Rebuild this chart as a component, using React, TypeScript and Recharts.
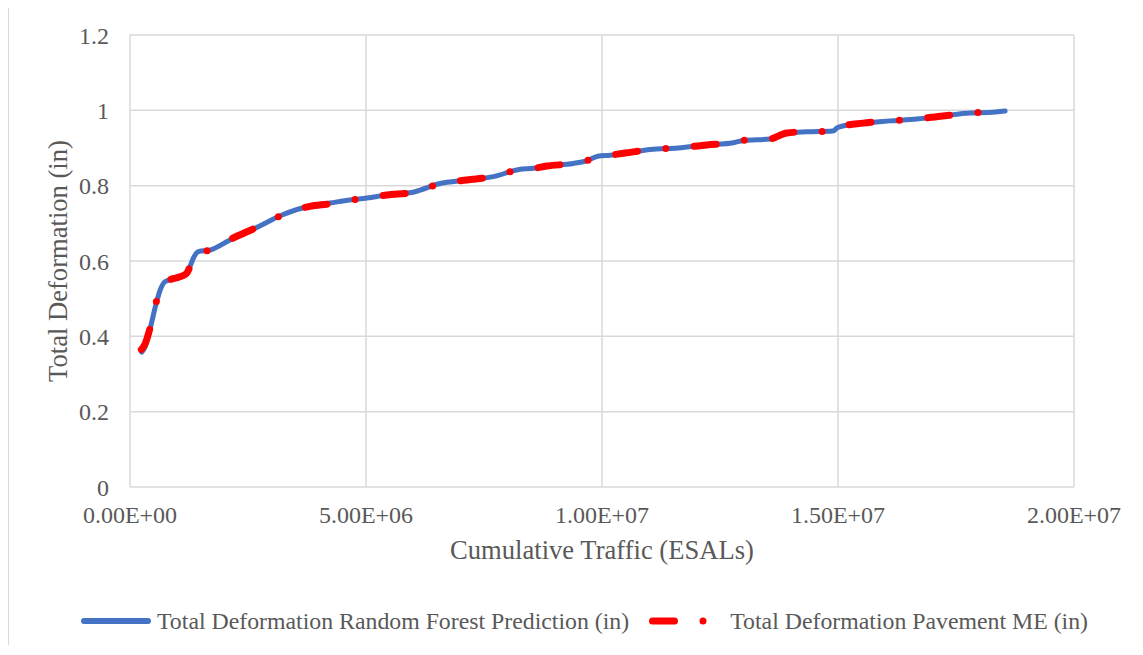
import { LineChart, Line, XAxis, YAxis, CartesianGrid, Legend, Label } from 'recharts';

// cumulative traffic (ESALs) and total deformation (in)
const rfTraffic = [
  250000, 320000, 420000, 565000, 640000, 740000, 880000, 1060000, 1200000, 1270000,
  1340000, 1450000, 1690000, 2120000, 2750000, 3220000, 3810000, 4240000, 4660000, 4890000,
  5440000, 6040000, 6550000, 7130000, 7700000, 8240000, 8550000, 8830000, 9390000, 9670000,
  9910000, 10170000, 10520000, 11020000, 11610000, 12220000, 12780000, 12990000, 13560000, 13920000,
  14340000, 14890000, 15000000, 15530000, 16100000, 16670000, 17220000, 17800000, 18200000, 18540000,
];
const rfDeformation = [
  0.358, 0.372, 0.417, 0.492, 0.523, 0.545, 0.551, 0.558, 0.567, 0.585,
  0.607, 0.625, 0.629, 0.656, 0.693, 0.722, 0.746, 0.754, 0.762, 0.765,
  0.775, 0.784, 0.805, 0.815, 0.824, 0.843, 0.846, 0.852, 0.859, 0.866,
  0.878, 0.881, 0.886, 0.896, 0.9, 0.908, 0.914, 0.92, 0.924, 0.94,
  0.943, 0.945, 0.955, 0.966, 0.972, 0.977, 0.985, 0.993, 0.994, 0.998,
];

const meTraffic = [
  240000, 320000, 420000, 565000, 640000, 740000, 880000, 1060000, 1200000, 1270000,
  1340000, 1450000, 1690000, 2120000, 2750000, 3220000, 3810000, 4240000, 4660000, 4890000,
  5440000, 6040000, 6550000, 7130000, 7700000, 8240000, 8550000, 8830000, 9390000, 9670000,
  9910000, 10170000, 10520000, 11020000, 11610000, 12220000, 12780000, 12990000, 13560000, 13920000,
  14340000, 14890000, 15000000, 15530000, 16100000, 16670000, 17220000, 17800000, 18370000,
];
const meDeformation = [
  0.365, 0.38, 0.42, 0.495, 0.525, 0.545, 0.552, 0.558, 0.567, 0.585,
  0.607, 0.624, 0.629, 0.657, 0.693, 0.722, 0.745, 0.752, 0.762, 0.765,
  0.775, 0.783, 0.805, 0.815, 0.824, 0.843, 0.846, 0.852, 0.859, 0.866,
  0.877, 0.881, 0.887, 0.896, 0.9, 0.908, 0.914, 0.92, 0.924, 0.94,
  0.943, 0.945, 0.955, 0.966, 0.972, 0.977, 0.985, 0.992, 1.0,
];

const xTicks = [0, 5000000, 10000000, 15000000, 20000000];
const yTicks = [0, 0.2, 0.4, 0.6, 0.8, 1, 1.2];

const rfName = 'Total Deformation Random Forest Prediction (in)';
const meName = 'Total Deformation Pavement ME (in)';

const rfData = rfTraffic.map((x, i) => ({ x, y: rfDeformation[i] }));
const meData = meTraffic.map((x, i) => ({ x, y: meDeformation[i] }));

const FONT = "'Liberation Serif', 'Times New Roman', serif";
const TEXT = '#595959';
const GRID = '#D9D9D9';
const BLUE = '#4472C4';
const RED = '#FF0000';
const DASH = '22 28.5 0 28.5';

function sci(v: number) {
  const [m, e] = v.toExponential(2).split('e');
  const sign = e[0] === '-' ? '-' : '+';
  const digits = e.replace(/[+-]/, '').padStart(2, '0');
  return `${m}E${sign}${digits}`;
}

function LegendBox() {
  return (
    <div
      style={{
        display: 'flex',
        alignItems: 'center',
        height: 40,
        paddingLeft: 72,
        fontFamily: FONT,
        fontSize: 23.8,
        color: TEXT,
        whiteSpace: 'nowrap',
      }}
    >
      <svg width={70} height={12} style={{ marginRight: 6 }}>
        <line x1={3} y1={6} x2={67} y2={6} stroke={BLUE} strokeWidth={6} strokeLinecap="round" />
      </svg>
      <span>{rfName}</span>
      <svg width={72} height={12} style={{ marginLeft: 20, marginRight: 9 }}>
        <line
          x1={3.5}
          y1={6}
          x2={55}
          y2={6}
          stroke={RED}
          strokeWidth={7}
          strokeLinecap="round"
          strokeDasharray={DASH}
        />
      </svg>
      <span>{meName}</span>
    </div>
  );
}

export default function App() {
  return (
    <div
      style={{
        marginTop: -3,
        width: 1134,
        height: 639,
        borderLeft: `1px solid ${GRID}`,
        borderTop: `1px solid ${GRID}`,
        background: '#fff',
      }}
    >
      <style>{`html,body{overflow:hidden;background:#fff}`}</style>
      <LineChart
        width={1134}
        height={639}
        margin={{ top: 29, right: 69, left: 0, bottom: 46 }}
        style={{ fontFamily: FONT }}
      >
        <CartesianGrid stroke={GRID} strokeWidth={1.5} />
        <XAxis
          type="number"
          dataKey="x"
          domain={[0, 20000000]}
          ticks={xTicks}
          interval={0}
          tickFormatter={sci}
          axisLine={false}
          tickLine={false}
          tickSize={0}
          tickMargin={19}
          height={72}
          tick={{ fill: TEXT, fontSize: 24, fontFamily: FONT }}
        >
          <Label
            value="Cumulative Traffic (ESALs)"
            position="insideBottom"
            offset={0}
            style={{ fill: TEXT, fontSize: 26.6, fontFamily: FONT }}
          />
        </XAxis>
        <YAxis
          type="number"
          domain={[0, 1.2]}
          ticks={yTicks}
          interval={0}
          tickFormatter={(v: number) => String(Number(v.toFixed(1)))}
          axisLine={false}
          tickLine={false}
          tickSize={0}
          tickMargin={21}
          width={121}
          tick={{ fill: TEXT, fontSize: 24, fontFamily: FONT }}
        >
          <Label
            content={(props: any) => {
              const vb = props.viewBox || { y: 29, height: 452 };
              const cy = vb.y + vb.height / 2;
              const cx = 58;
              return (
                <text
                  x={cx}
                  y={cy}
                  transform={`rotate(-90, ${cx}, ${cy})`}
                  textAnchor="middle"
                  fill={TEXT}
                  fontSize={26.6}
                  fontFamily={FONT}
                >
                  Total Deformation (in)
                </text>
              );
            }}
          />
        </YAxis>
        <Legend
          verticalAlign="bottom"
          content={() => <LegendBox />}
          wrapperStyle={{ top: 595, left: 0, width: 1134 }}
        />
        <Line
          data={rfData}
          dataKey="y"
          name={rfName}
          type="monotone"
          stroke={BLUE}
          strokeWidth={5}
          strokeLinecap="round"
          dot={false}
          activeDot={false}
          isAnimationActive={false}
        />
        <Line
          data={meData}
          dataKey="y"
          name={meName}
          type="monotone"
          stroke={RED}
          strokeWidth={7}
          strokeLinecap="round"
          strokeDasharray={DASH}
          dot={false}
          activeDot={false}
          isAnimationActive={false}
        />
      </LineChart>
    </div>
  );
}
